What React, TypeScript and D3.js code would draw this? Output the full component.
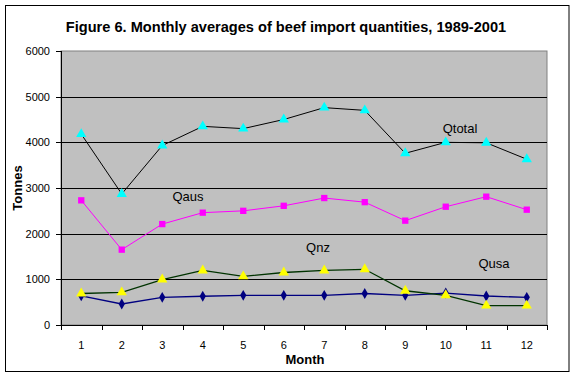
import React from "react";
import * as d3 from "d3";

const months = [1, 2, 3, 4, 5, 6, 7, 8, 9, 10, 11, 12];
const qtotal = [4180, 2870, 3930, 4350, 4300, 4500, 4760, 4700, 3760, 4000, 3990, 3630];
const qaus = [2730, 1650, 2210, 2460, 2500, 2610, 2780, 2690, 2285, 2590, 2810, 2525];
const qnz = [690, 715, 995, 1195, 1065, 1150, 1195, 1220, 750, 650, 425, 425];
const qusa = [640, 460, 605, 630, 650, 650, 650, 690, 650, 700, 635, 605];
const yTicks = [0, 1000, 2000, 3000, 4000, 5000, 6000];

const W = 576;
const H = 378;
const plot = { left: 61, right: 547, top: 51, bottom: 325 };

export default function App() {
  const x = d3
    .scaleBand<number>()
    .domain(months)
    .range([plot.left, plot.right])
    .padding(0);
  const y = d3.scaleLinear().domain([0, 6000]).range([plot.bottom, plot.top]);
  const cx = (m: number) => (x(m) as number) + x.bandwidth() / 2;
  const line = d3
    .line<number>()
    .x((_, i) => cx(months[i]))
    .y((v) => y(v));

  const tri = d3.symbol().type(d3.symbolTriangle).size(46)() as string;
  const sq = d3.symbol().type(d3.symbolSquare).size(40)() as string;
  const dia = d3.symbol().type(d3.symbolDiamond).size(34)() as string;

  const font = "'Liberation Sans', Arial, sans-serif";
  const bounds = months.map((m) => x(m) as number).concat([plot.right]);

  return (
    <svg width={W} height={H} style={{ position: "absolute", left: 0, top: 0 }} fontFamily={font}>
      <rect x={0} y={0} width={W} height={H} fill="#fff" />
      <rect x={5.5} y={5.5} width={563.5} height={366} fill="none" stroke="#000" strokeWidth={1} />
      <text x={286} y={32} textAnchor="middle" fontSize={14.6} fontWeight="bold">
        Figure 6. Monthly averages of beef import quantities, 1989-2001
      </text>
      <rect
        x={plot.left}
        y={plot.top}
        width={plot.right - plot.left}
        height={plot.bottom - plot.top}
        fill="#c0c0c0"
        stroke="#808080"
        strokeWidth={1}
      />
      {yTicks.slice(1, -1).map((t) => (
        <line key={t} x1={plot.left} x2={plot.right} y1={Math.round(y(t)) + 0.5} y2={Math.round(y(t)) + 0.5} stroke="#000" strokeWidth={1} />
      ))}
      <line x1={plot.left + 0.5} x2={plot.left + 0.5} y1={plot.top} y2={plot.bottom} stroke="#000" />
      <line x1={plot.left} x2={plot.right} y1={plot.bottom + 0.5} y2={plot.bottom + 0.5} stroke="#000" />
      {yTicks.map((t) => (
        <g key={t}>
          <line x1={plot.left - 5} x2={plot.left} y1={Math.round(y(t)) + 0.5} y2={Math.round(y(t)) + 0.5} stroke="#000" />
          <text x={plot.left - 11} y={y(t) + 4} textAnchor="end" fontSize={11}>
            {t}
          </text>
        </g>
      ))}
      {bounds.map((b, i) => (
        <line key={i} x1={Math.round(b) + 0.5} x2={Math.round(b) + 0.5} y1={plot.bottom} y2={plot.bottom + 5} stroke="#000" />
      ))}
      {months.map((m) => (
        <text key={m} x={cx(m)} y={349} textAnchor="middle" fontSize={11}>
          {m}
        </text>
      ))}
      <text x={305} y={364} textAnchor="middle" fontSize={13} fontWeight="bold">
        Month
      </text>
      <text transform="translate(22,188) rotate(-90)" textAnchor="middle" fontSize={13} fontWeight="bold">
        Tonnes
      </text>

      <path d={line(qusa) as string} fill="none" stroke="#000080" strokeWidth={1.3} />
      <path d={line(qnz) as string} fill="none" stroke="#003300" strokeWidth={1.3} />
      <path d={line(qaus) as string} fill="none" stroke="#ff00ff" strokeWidth={1} />
      <path d={line(qtotal) as string} fill="none" stroke="#000" strokeWidth={1} />

      {qusa.map((v, i) => (
        <path key={"u" + i} d={dia} transform={`translate(${cx(months[i])},${y(v)})`} fill="#000080" />
      ))}
      {qnz.map((v, i) => (
        <path key={"n" + i} d={tri} transform={`translate(${cx(months[i])},${y(v)})`} fill="#ffff00" />
      ))}
      {qaus.map((v, i) => (
        <path key={"a" + i} d={sq} transform={`translate(${cx(months[i])},${y(v)})`} fill="#ff00ff" />
      ))}
      {qtotal.map((v, i) => (
        <path key={"t" + i} d={tri} transform={`translate(${cx(months[i])},${y(v)})`} fill="#00ffff" />
      ))}

      <text x={460} y={133} textAnchor="middle" fontSize={13}>Qtotal</text>
      <text x={188} y={201} textAnchor="middle" fontSize={13}>Qaus</text>
      <text x={318} y={252} textAnchor="middle" fontSize={13}>Qnz</text>
      <text x={494} y={268} textAnchor="middle" fontSize={13}>Qusa</text>
    </svg>
  );
}
